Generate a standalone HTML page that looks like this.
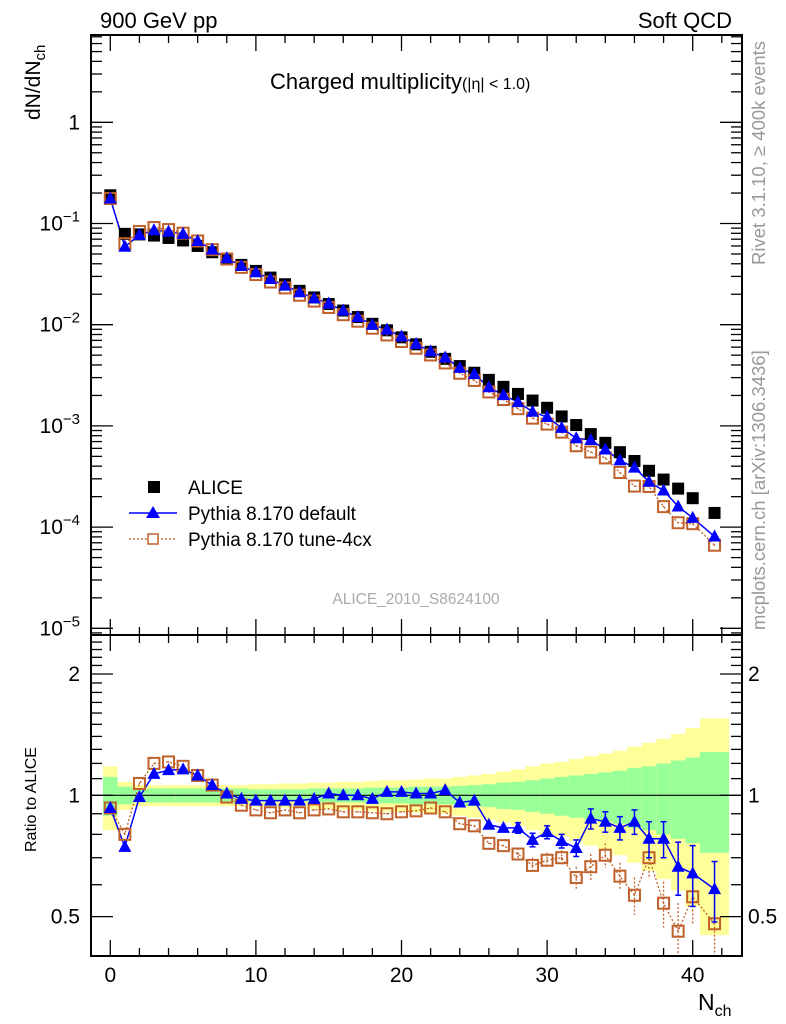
<!DOCTYPE html>
<html><head><meta charset="utf-8"><style>
html,body{margin:0;padding:0;background:#fff;}
svg{display:block;font-family:"Liberation Sans",sans-serif;}
</style></head><body>
<svg id="chart" width="786" height="1024" xmlns="http://www.w3.org/2000/svg">
<g id="bands"></g>
<g id="marks"></g>
<g id="axes"></g>
<text x="100" y="28" font-size="22">900 GeV pp</text>
<text x="732" y="28" font-size="22" text-anchor="end">Soft QCD</text>
<text x="270" y="89" font-size="22">Charged multiplicity<tspan font-size="16">(|η| &lt; 1.0)</tspan></text>
<text transform="translate(40,120) rotate(-90)" font-size="21">dN/dN<tspan font-size="15" dy="5">ch</tspan></text>
<text transform="translate(36,852) rotate(-90)" font-size="16">Ratio to ALICE</text>
<text x="698" y="1010" font-size="23">N<tspan font-size="16" dy="6">ch</tspan></text>
<text transform="translate(765,265) rotate(-90)" font-size="18.5" fill="#999">Rivet 3.1.10, ≥ 400k events</text>
<text transform="translate(765,630) rotate(-90)" font-size="18.5" fill="#999">mcplots.cern.ch [arXiv:1306.3436]</text>
<text x="416" y="604" font-size="15.5" fill="#aaa" text-anchor="middle">ALICE_2010_S8624100</text>
<g>
<rect x="148" y="481" width="12" height="12" fill="#000"/>
<text x="188" y="494" font-size="19">ALICE</text>
<line x1="129" y1="513" x2="177" y2="513" stroke="#00f" stroke-width="1.5"/>
<path d="M153,506 L160,518 L146,518 Z" fill="#00f"/>
<text x="188" y="520" font-size="19">Pythia 8.170 default</text>
<line x1="129" y1="539" x2="177" y2="539" stroke="#c0602a" stroke-width="1.2" stroke-dasharray="2,2"/>
<rect x="148" y="534" width="10" height="10" fill="#fff" stroke="#c0602a" stroke-width="1.5"/>
<text x="188" y="546" font-size="19">Pythia 8.170 tune-4cx</text>
</g>
</svg>
<script>
const nch = [0,1,2,3,4,5,6,7,8,9,10,11,12,13,14,15,16,17,18,19,20,21,22,23,24,25,26,27,28,29,30,31,32,33,34,35,36,37,38,39,40,41.5];
const binLo = [-0.5,0.5,1.5,2.5,3.5,4.5,5.5,6.5,7.5,8.5,9.5,10.5,11.5,12.5,13.5,14.5,15.5,16.5,17.5,18.5,19.5,20.5,21.5,22.5,23.5,24.5,25.5,26.5,27.5,28.5,29.5,30.5,31.5,32.5,33.5,34.5,35.5,36.5,37.5,38.5,39.5,40.5];
const binHi = [0.5,1.5,2.5,3.5,4.5,5.5,6.5,7.5,8.5,9.5,10.5,11.5,12.5,13.5,14.5,15.5,16.5,17.5,18.5,19.5,20.5,21.5,22.5,23.5,24.5,25.5,26.5,27.5,28.5,29.5,30.5,31.5,32.5,33.5,34.5,35.5,36.5,37.5,38.5,39.5,40.5,42.5];
const alice = [0.19,0.079,0.078,0.076,0.072,0.068,0.060,0.052,0.045,0.039,0.034,0.0292,0.0251,0.0216,0.0186,0.0160,0.0138,0.0119,0.0102,0.0088,0.0075,0.0064,0.0054,0.0046,0.0039,0.00335,0.00285,0.00243,0.00207,0.00178,0.00151,0.00124,0.00102,0.00083,0.00068,0.00055,0.00045,0.00036,0.000295,0.00024,0.000193,0.000138];
const ratioDefault = [0.93,0.745,0.99,1.13,1.155,1.16,1.12,1.06,1.01,0.98,0.97,0.97,0.97,0.97,0.98,1.01,1.0,1.0,0.98,1.02,1.02,1.01,1.01,1.03,0.96,0.97,0.845,0.83,0.83,0.775,0.81,0.77,0.74,0.875,0.86,0.83,0.86,0.78,0.78,0.665,0.64,0.585];
const errDefault = [0.01,0.01,0.01,0.01,0.01,0.01,0.01,0.01,0.01,0.01,0.01,0.01,0.01,0.01,0.01,0.01,0.01,0.01,0.01,0.01,0.01,0.01,0.01,0.01,0.015,0.015,0.02,0.02,0.025,0.03,0.03,0.03,0.035,0.05,0.05,0.055,0.06,0.08,0.08,0.1,0.11,0.1];
const ratioTune = [0.93,0.8,1.07,1.2,1.21,1.18,1.12,1.06,0.99,0.945,0.92,0.905,0.92,0.905,0.92,0.925,0.91,0.91,0.905,0.9,0.91,0.915,0.93,0.91,0.85,0.84,0.76,0.75,0.715,0.67,0.69,0.70,0.625,0.665,0.71,0.63,0.565,0.70,0.54,0.46,0.56,0.48];
const errTune = [0.01,0.01,0.01,0.01,0.01,0.01,0.01,0.01,0.01,0.01,0.01,0.01,0.01,0.01,0.01,0.01,0.01,0.01,0.01,0.01,0.01,0.01,0.01,0.01,0.015,0.015,0.02,0.02,0.025,0.03,0.03,0.03,0.04,0.05,0.05,0.05,0.06,0.08,0.07,0.08,0.08,0.1];
const errTotal = [0.18,0.08,0.06,0.06,0.06,0.06,0.06,0.06,0.06,0.06,0.065,0.065,0.07,0.07,0.075,0.075,0.08,0.08,0.085,0.09,0.09,0.095,0.10,0.10,0.11,0.12,0.13,0.145,0.16,0.18,0.20,0.21,0.23,0.25,0.27,0.29,0.32,0.35,0.38,0.42,0.47,0.55];
const errStat = [0.11,0.05,0.04,0.04,0.04,0.04,0.04,0.04,0.04,0.04,0.035,0.035,0.035,0.035,0.04,0.04,0.04,0.04,0.045,0.045,0.045,0.05,0.05,0.05,0.055,0.06,0.065,0.075,0.08,0.09,0.10,0.11,0.12,0.13,0.14,0.15,0.17,0.18,0.20,0.22,0.24,0.28];
const ratioTicks = [0.5,1,2];
const ratioTickLabels = ["0.5","1","2"];
const xTicks = [0,10,20,30,40];

const NS="http://www.w3.org/2000/svg";
const L=91,R=742,T1=35,B1=635,T2=635,B2=956;
const xs = v => 110.3 + v*14.56;
const ysTop = v => 122.3 - Math.log10(v)*101.2;
const ysRat = v => 795.3 - Math.log10(v)*403;
function mk(tag, attrs, parent){const e=document.createElementNS(NS,tag);for(const k in attrs)e.setAttribute(k,attrs[k]);parent.appendChild(e);return e;}
const bands=document.getElementById('bands'), marks=document.getElementById('marks'), axes=document.getElementById('axes');
const clipR = (v)=>Math.max(T2,Math.min(B2,v));

for(let i=0;i<nch.length;i++){
  const x1=xs(binLo[i]), x2=xs(binHi[i]);
  const y1=clipR(ysRat(1+errTotal[i])), y2=clipR(ysRat(1-errTotal[i]));
  const r=mk('rect',{x:x1,y:y1,width:x2-x1,height:y2-y1,fill:'#ffff99'},bands);
  
  
  const g=mk('rect',{x:x1,y:ysRat(1+errStat[i]),width:x2-x1,height:ysRat(1-errStat[i])-ysRat(1+errStat[i]),fill:'#99ff99'},bands);
  
  
}
mk('line',{x1:L,y1:ysRat(1),x2:R,y2:ysRat(1),stroke:'#000','stroke-width':1.2},bands);

const defs=mk('defs',{},marks);
const cp=mk('clipPath',{id:'cr'},defs); mk('rect',{x:L,y:T2,width:R-L,height:B2-T2},cp);
const cpt=mk('clipPath',{id:'ct'},defs); mk('rect',{x:L,y:T1,width:R-L,height:B1-T1},cpt);
const gTop=mk('g',{'clip-path':'url(#ct)'},marks);
const gRat=mk('g',{'clip-path':'url(#cr)'},marks);

function tri(g,x,y,name){const p=mk('path',{d:`M${x},${y-7} L${x+6.5},${y+5} L${x-6.5},${y+5} Z`,fill:'#00f'},g);
  
  }
function osq(g,x,y,name){const r=mk('rect',{x:x-5.5,y:y-5.5,width:11,height:11,fill:'none',stroke:'#c0602a','stroke-width':2},g);
  
  
  mk('rect',{x:x-0.7,y:y-0.7,width:1.4,height:1.4,fill:'#c0602a'},g);}

let dTune='',dDef='';
for(let i=0;i<nch.length;i++){
  const x=xs(nch[i]);
  dTune+=(i?'L':'M')+x+','+ysTop(alice[i]*ratioTune[i]);
  dDef+=(i?'L':'M')+x+','+ysTop(alice[i]*ratioDefault[i]);
}
mk('path',{d:dTune,fill:'none',stroke:'#c0602a','stroke-width':1.3,'stroke-dasharray':'2,2'},gTop);
mk('path',{d:dDef,fill:'none',stroke:'#00f','stroke-width':1.5},gTop);
for(let i=0;i<nch.length;i++){
  const x=xs(nch[i]);
  const r=mk('rect',{x:x-6,y:ysTop(alice[i])-6,width:12,height:12,fill:'#000'},gTop);
  
  
}
for(let i=0;i<nch.length;i++){
  const x=xs(nch[i]);
  osq(gTop,x,ysTop(alice[i]*ratioTune[i]),'tune4cx-point');
  tri(gTop,x,ysTop(alice[i]*ratioDefault[i]),'default-point');
}

let rT='',rD='';
for(let i=0;i<nch.length;i++){
  const x=xs(nch[i]);
  rT+=(i?'L':'M')+x+','+ysRat(ratioTune[i]);
  rD+=(i?'L':'M')+x+','+ysRat(ratioDefault[i]);
}
mk('path',{d:rT,fill:'none',stroke:'#c0602a','stroke-width':1.3,'stroke-dasharray':'2,2'},gRat);
mk('path',{d:rD,fill:'none',stroke:'#00f','stroke-width':1.5},gRat);
for(let i=0;i<nch.length;i++){
  const x=xs(nch[i]);
  if(errTune[i]>0.02){mk('line',{x1:x,y1:ysRat(ratioTune[i]+errTune[i]),x2:x,y2:ysRat(ratioTune[i]-errTune[i]),stroke:'#c0602a','stroke-width':1.3,'stroke-dasharray':'2,2'},gRat);}
  osq(gRat,x,ysRat(ratioTune[i]),'tune4cx-ratio-point');
}
for(let i=0;i<nch.length;i++){
  const x=xs(nch[i]);
  if(errDefault[i]>0.02){const a=ysRat(ratioDefault[i]+errDefault[i]),b=ysRat(ratioDefault[i]-errDefault[i]);
    mk('line',{x1:x,y1:a,x2:x,y2:b,stroke:'#00f','stroke-width':1.5},gRat);
    mk('line',{x1:x-3,y1:a,x2:x+3,y2:a,stroke:'#00f','stroke-width':1.5},gRat);
    mk('line',{x1:x-3,y1:b,x2:x+3,y2:b,stroke:'#00f','stroke-width':1.5},gRat);}
  tri(gRat,x,ysRat(ratioDefault[i]),'default-ratio-point');
}

for(const [t,b,n] of [[T1,B1,'main-frame'],[T2,B2,'ratio-frame']]){
  const f=mk('rect',{x:L,y:t,width:R-L,height:b-t,fill:'none',stroke:'#000','stroke-width':2},axes);
  
  
}
for(const [t,b] of [[T1,B1],[T2,B2]]){
  for(let v=0;v<=42;v+=2){
    const x=xs(v), major=v%10===0, len=major?16:8;
    mk('line',{x1:x,y1:b,x2:x,y2:b-len,stroke:'#000','stroke-width':1.3},axes);
    mk('line',{x1:x,y1:t,x2:x,y2:t+len,stroke:'#000','stroke-width':1.3},axes);
  }
}
xTicks.forEach(v=>{const t=mk('text',{x:xs(v),y:982,'font-size':21,'text-anchor':'middle'},axes);t.textContent=v;
  
  });
for(let e=1;e>=-6;e--){
  for(let m=1;m<10;m++){
    const v=m*Math.pow(10,e), y=ysTop(v);
    if(y<T1||y>B1) continue;
    const len=m===1?22:11;
    mk('line',{x1:L,y1:y,x2:L+len,y2:y,stroke:'#000','stroke-width':1.3},axes);
    mk('line',{x1:R,y1:y,x2:R-len,y2:y,stroke:'#000','stroke-width':1.3},axes);
  }
}
for(let e=0;e>=-5;e--){
  const y=ysTop(Math.pow(10,e));
  const t=mk('text',{x:80,y:y+7,'font-size':21,'text-anchor':'end'},axes);
  
  
  if(e===0){t.textContent='1';}
  else{t.textContent='10';const s=mk('tspan',{dy:-9,'font-size':15},t);s.textContent='−'+(-e);}
}
for(let k=4;k<=25;k++){
  const v=k/10, y=ysRat(v), major=(k===5||k===10||k===20), len=major?22:11;
  mk('line',{x1:L,y1:y,x2:L+len,y2:y,stroke:'#000','stroke-width':1.3},axes);
  mk('line',{x1:R,y1:y,x2:R-len,y2:y,stroke:'#000','stroke-width':1.3},axes);
}
ratioTicks.forEach((v,i)=>{
  const y=ysRat(v)+7;
  const a=mk('text',{x:80,y:y,'font-size':21,'text-anchor':'end'},axes);a.textContent=ratioTickLabels[i];
  
  
  const b=mk('text',{x:748,y:y,'font-size':21},axes);b.textContent=ratioTickLabels[i];
  
  
});
</script>
</body></html>
